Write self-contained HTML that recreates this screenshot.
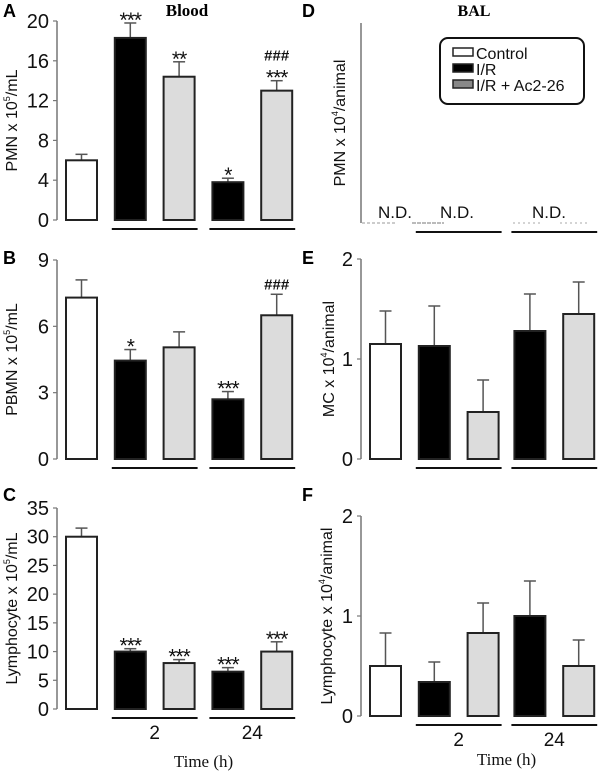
<!DOCTYPE html>
<html><head><meta charset="utf-8"><style>
body{margin:0;background:#fff;}
svg{display:block;font-family:"Liberation Sans",sans-serif;}
</style></head><body>
<svg id="fig" width="600" height="778" viewBox="0 0 600 778"></svg>
<script>
const groups = ["Control","I/R 2h","I/R+Ac2-26 2h","I/R 24h","I/R+Ac2-26 24h"];
const valsA = [6.0,18.3,14.4,3.8,13.0];
const errA = [0.6,1.5,1.5,0.4,1.0];
const sigA = ["","***","**","*","***"];
const sig2A = ["","","","","###"];
const valsB = [7.3,4.45,5.05,2.7,6.5];
const errB = [0.8,0.5,0.7,0.35,0.95];
const sigB = ["","*","","***",""];
const sig2B = ["","","","","###"];
const valsC = [30,10,8,6.5,10];
const errC = [1.5,0.5,0.6,0.7,1.7];
const sigC = ["","***","***","***","***"];
const valsE = [1.15,1.13,0.47,1.28,1.45];
const errE = [0.33,0.4,0.32,0.37,0.32];
const valsF = [0.5,0.34,0.83,1.0,0.5];
const errF = [0.33,0.2,0.3,0.35,0.26];
const ticksA = [0,4,8,12,16,20];
const ticksB = [0,3,6,9];
const ticksC = [0,5,10,15,20,25,30,35];
const ticksEF = [0,1,2];
const timeLabels = ["2","24"];

const NS="http://www.w3.org/2000/svg";
const svg=document.getElementById('fig');
function mk(tag,attrs,parent,text){const e=document.createElementNS(NS,tag);for(const k in attrs)e.setAttribute(k,attrs[k]);if(text!==undefined)e.textContent=text;(parent||svg).appendChild(e);return e;}
const fills=["#fff","#000","#dcdcdc","#000","#dcdcdc"];

function panel(o){
  const g=mk('g',{});
  
  
  const y=v=>o.y0-(v-o.min)/(o.max-o.min)*(o.y0-o.y1);
  const x=i=>o.ax+8+i*o.step+(i>=3?o.gap24:0);
  const ax=mk('line',{x1:o.ax,x2:o.ax,y1:o.y1,y2:o.y0,stroke:'#777','stroke-width':1.5},g);
  
  o.ticks.forEach(t=>{
    mk('line',{x1:o.ax-4,x2:o.ax,y1:y(t),y2:y(t),stroke:'#777','stroke-width':1.2},g);
    const tl=mk('text',{x:o.ax-8,y:y(t)+7,'text-anchor':'end','font-size':20,fill:'#111'},g,t);
    
  });
  const yt=mk('text',{transform:`translate(${o.tx},${(o.y0+o.y1)/2}) rotate(-90)`,'text-anchor':'middle','dominant-baseline':'middle','font-size':16,fill:'#111'},g);
  yt.innerHTML=o.ylabel;
  
  const pl=mk('text',{x:o.lx,y:o.ly,'font-size':18,'font-weight':'bold',fill:'#000'},g,o.letter);
  
  if(o.vals){
    o.vals.forEach((v,i)=>{
      const bx=x(i),w=33,top=y(v),et=y(v+o.err[i]);
      const el=mk('line',{x1:bx+w/2,x2:bx+w/2,y1:top,y2:et,stroke:'#555','stroke-width':1.5},g);
      
      mk('line',{x1:bx+w/2-6,x2:bx+w/2+6,y1:et,y2:et,stroke:'#555','stroke-width':1.5},g);
      const r=mk('rect',{x:bx+1,y:top,width:w-2,height:o.y0-top,fill:fills[i],stroke:'#222','stroke-width':2},g);
      
      
      if(o.sig&&o.sig[i]){
        const s=mk('text',{x:bx+w/2,y:et+4,'text-anchor':'middle','font-size':21,fill:'#111','letter-spacing':'-1'},g,o.sig[i]);
        
      }
      if(o.sig2&&o.sig2[i]){
        const s=mk('text',{x:bx+w/2,y:et-(o.sig[i]?20:5),'text-anchor':'middle','font-size':15,'font-weight':'bold',fill:'#111'},g,o.sig2[i]);
        
      }
    });
  }
  [[x(1)-2,x(2)+35],[x(3)-2,x(4)+35]].forEach(s=>{
    const l=mk('line',{x1:s[0],x2:s[1],y1:o.y0+9,y2:o.y0+9,stroke:'#111','stroke-width':2},g);
    
  });
  if(o.time){
    timeLabels.forEach((t,k)=>{
      const cx=k==0?(x(1)+x(2)+33)/2:(x(3)+x(4)+33)/2;
      const tl=mk('text',{x:cx,y:o.y0+30,'text-anchor':'middle','font-size':19,fill:'#111'},g,t);
      
    });
    const tt=mk('text',{x:(x(1)+x(4)+33)/2,y:o.timeY,'text-anchor':'middle','font-size':17,'font-family':'Liberation Serif, serif',fill:'#111'},g,'Time (h)');
    
  }
  return {g,x,y};
}
const sty=(t,e)=>t.replace('EXP',`<tspan dy="-5" font-size="9">${e}</tspan><tspan dy="5">`)+'</tspan>';

panel({name:'panel-a',letter:'A',lx:3,ly:17,ax:57,tx:13,y0:220,y1:21,min:0,max:20,ticks:ticksA,step:48.8,gap24:0,vals:valsA,err:errA,sig:sigA,sig2:sig2A,ylabel:sty('PMN x 10EXP/mL','5')});
panel({name:'panel-b',letter:'B',lx:3,ly:264,ax:57,tx:13,y0:459,y1:260,min:0,max:9,ticks:ticksB,step:48.8,gap24:0,vals:valsB,err:errB,sig:sigB,sig2:sig2B,ylabel:sty('PBMN x 10EXP/mL','5')});
panel({name:'panel-c',letter:'C',lx:3,ly:501,ax:57,tx:13,y0:709,y1:508,min:0,max:35,ticks:ticksC,step:48.8,gap24:0,vals:valsC,err:errC,sig:sigC,ylabel:sty('Lymphocyte x 10EXP/mL','5'),time:true,timeY:767});
panel({name:'panel-e',letter:'E',lx:302,ly:264,ax:361,tx:330,y0:459,y1:259,min:0,max:2,ticks:ticksEF,step:48.8,gap24:-2,vals:valsE,err:errE,ylabel:sty('MC x 10EXP/animal','4')});
panel({name:'panel-f',letter:'F',lx:302,ly:501,ax:361,tx:328,y0:716,y1:516,min:0,max:2,ticks:ticksEF,step:48.8,gap24:-2,vals:valsF,err:errF,ylabel:sty('Lymphocyte x 10EXP/animal','4'),time:true,timeY:765});
// Panel D
const pd=panel({name:'panel-d',letter:'D',lx:302,ly:17,ax:361,tx:341,y0:223,y1:23,min:0,max:1,ticks:[],step:48.8,gap24:-2,ylabel:sty('PMN x 10EXP/animal','4')});
mk('line',{x1:362,x2:395,y1:223,y2:223,stroke:'#999','stroke-width':1,'stroke-dasharray':'3,2'},pd.g);
mk('line',{x1:412,x2:444,y1:223,y2:223,stroke:'#777','stroke-width':1,'stroke-dasharray':'4,1'},pd.g);
mk('line',{x1:513,x2:540,y1:223,y2:223,stroke:'#aaa','stroke-width':1,'stroke-dasharray':'2,3'},pd.g);
mk('line',{x1:560,x2:588,y1:223,y2:223,stroke:'#aaa','stroke-width':1,'stroke-dasharray':'2,3'},pd.g);
[[395,'N.D.'],[457,'N.D.'],[549,'N.D.']].forEach(p=>{const t=mk('text',{x:p[0],y:218,'text-anchor':'middle','font-size':17,fill:'#111'},pd.g,p[1]);});
// titles
const t1=mk('text',{x:187,y:16,'text-anchor':'middle','font-size':17,'font-weight':'bold','font-family':'Liberation Serif, serif'},svg,'Blood');

const t2=mk('text',{x:474,y:16,'text-anchor':'middle','font-size':16,'font-weight':'bold','font-family':'Liberation Serif, serif'},svg,'BAL');

// legend
const lg=mk('g',{});

mk('rect',{x:440,y:38,width:144,height:66,rx:8,fill:'#fff',stroke:'#111','stroke-width':2},lg);
const lf=["#fff","#000","#888"],ln=["Control","I/R","I/R + Ac2-26"];
ln.forEach((n,i)=>{
  const e=mk('g',{},lg);
  
  mk('rect',{x:453,y:48+i*16,width:20,height:8,fill:lf[i],stroke:'#222','stroke-width':1.5},e);
  mk('text',{x:476,y:59+i*16,'font-size':16,fill:'#111'},e,n);
});
</script>
</body></html>
